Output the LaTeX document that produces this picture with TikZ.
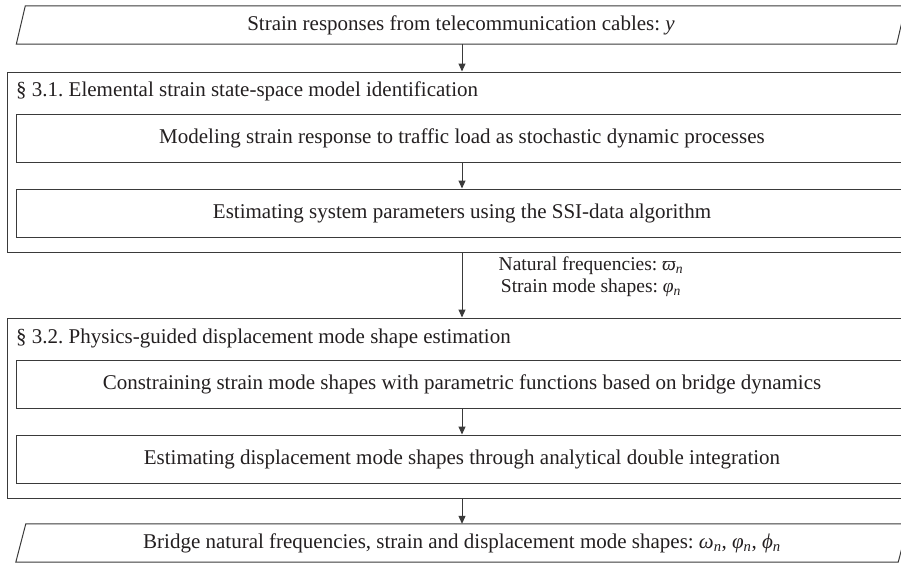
\documentclass[tikz,border=0pt]{standalone}
\usepackage{fontspec}
\setmainfont{Liberation Serif}
\usetikzlibrary{arrows.meta}
\definecolor{linegray}{HTML}{3A3A3A}
\definecolor{inkblack}{HTML}{231F20}
\newcommand{\sub}[1]{\textsubscript{\textit{#1}}}
\frenchspacing
\begin{document}
\begin{tikzpicture}[x=1pt,y=-1pt,
  frame/.style={draw=linegray, line width=1pt},
  box/.style={frame, rectangle, inner sep=0pt, minimum width=892pt, minimum height=48pt,
    font=\fontsize{21}{24}\selectfont, text=inkblack},
  section/.style={frame, rectangle, inner sep=0pt, minimum width=910pt, minimum height=180pt},
  ioshape/.style={rectangle, inner sep=0pt, minimum height=38pt,
    font=\fontsize{21}{24}\selectfont, text=inkblack},
  label/.style={inner sep=0pt, font=\fontsize{21}{24}\selectfont, text=inkblack},
  flow/.style={draw=linegray, line width=1pt, -{Triangle[length=8pt,width=7pt]}}]
\useasboundingbox (0,0) rectangle (901,563);
\clip (0,0) rectangle (901,563);

% input data
\node[ioshape, minimum width=880pt] (src) at (461,25)
  {Strain responses from telecommunication cables: \textit{y}};
\draw[frame] ([xshift=-4.5pt]src.south west) -- ([xshift=4.5pt]src.north west)
  -- ([xshift=4.5pt]src.north east) -- ([xshift=-4.5pt]src.south east) -- cycle;

% section 3.1
\node[section] (sec1) at (462,162) {};
\node[label, anchor=west] (head1) at (16,91)
  {§ 3.1. Elemental strain state-space model identification};
\node[box] (model) at (462,138)
  {Modeling strain response to traffic load as stochastic dynamic processes};
\node[box] (ssi) at (462,213)
  {Estimating system parameters using the SSI-data algorithm};

% section 3.2
\node[section] (sec2) at (462,408) {};
\node[label, anchor=west] (head2) at (16,338)
  {§ 3.2. Physics-guided displacement mode shape estimation};
\node[box] (constrain) at (462,384)
  {Constraining strain mode shapes with parametric functions based on bridge dynamics};
\node[box] (integrate) at (462,459)
  {Estimating displacement mode shapes through analytical double integration};

% output data
\node[ioshape, minimum width=882pt] (out) at (462,543)
  {Bridge natural frequencies, strain and displacement mode shapes: \textit{ω}\sub{n}, \textit{φ}\sub{n}, \textit{ϕ}\sub{n}};
\draw[frame] ([xshift=-5pt]out.south west) -- ([xshift=5pt]out.north west)
  -- ([xshift=5pt]out.north east) -- ([xshift=-5pt]out.south east) -- cycle;

% connectors
\draw[flow] (src.south -| sec1.north) -- (sec1.north);
\draw[flow] (model) -- (ssi);
\draw[flow] (sec1) -- (sec2);
\draw[flow] (constrain) -- (integrate);
\draw[flow] (sec2.south) -- (out.north);

% identified quantities
\node[label, align=center, font=\fontsize{19.5}{22}\selectfont] (modal) at (591,277)
  {Natural frequencies: \textit{ϖ}\sub{n}\\Strain mode shapes: \textit{φ}\sub{n}};
\end{tikzpicture}
\end{document}
